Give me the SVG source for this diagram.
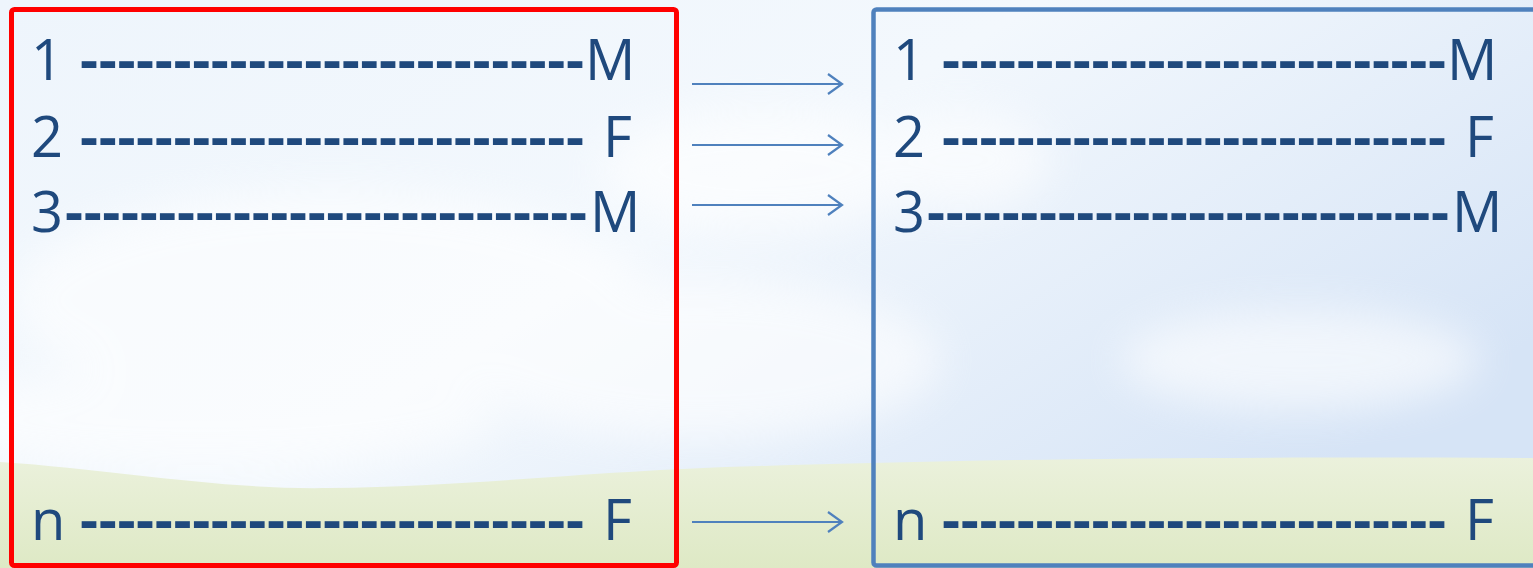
<svg xmlns="http://www.w3.org/2000/svg" width="1533" height="568" viewBox="0 0 1533 568">
<style>
.t{font-family:"Open Sans","Noto Sans","Liberation Sans",sans-serif;font-size:56px;fill:#1F497D}
.d{font-weight:700}
.arrow{stroke:#4F81BD;stroke-width:2;fill:none}
</style>
<defs>
<linearGradient id="sky" x1="0" y1="0" x2="1" y2="0.6">
<stop offset="0" stop-color="#EEF5FC"/>
<stop offset="0.5" stop-color="#F3F8FD"/>
<stop offset="1" stop-color="#D6E4F6"/>
</linearGradient>
<linearGradient id="grass" x1="0" y1="0" x2="0" y2="1">
<stop offset="0" stop-color="#EBF1DC"/>
<stop offset="1" stop-color="#DEE9C5"/>
</linearGradient>
<filter id="blur" x="-50%" y="-50%" width="200%" height="200%"><feGaussianBlur stdDeviation="20"/></filter>
<marker id="chev" markerWidth="20" markerHeight="24" refX="17" refY="12" orient="auto" markerUnits="userSpaceOnUse">
<path d="M3,2 L17,12 L3,22" fill="none" stroke="#4F81BD" stroke-width="2.2"/>
</marker>
</defs>
<g id="background">
<rect x="0" y="0" width="1533" height="568" fill="url(#sky)"/>
<g filter="url(#blur)" fill="#FFFFFF" opacity="0.6">
<ellipse cx="330" cy="300" rx="320" ry="110"/>
<ellipse cx="760" cy="170" rx="160" ry="60"/>
<ellipse cx="960" cy="160" rx="90" ry="50"/>
<ellipse cx="700" cy="360" rx="240" ry="80"/>
<ellipse cx="1300" cy="360" rx="180" ry="50"/>
<ellipse cx="200" cy="420" rx="300" ry="50"/>
</g>
<path d="M0,462 C120,470 220,490 330,488 C480,486 600,470 760,466 C950,460 1200,456 1533,458 L1533,568 L0,568 Z" fill="url(#grass)"/>
</g>
<g id="node-left">
<rect x="11.5" y="9.5" width="665" height="556" rx="3" fill="none" stroke="#FF0000" stroke-width="5"/>
<text class="t" y="80"><tspan x="31">1</tspan><tspan class="d" x="80" textLength="504" lengthAdjust="spacing">---------------------------</tspan><tspan x="585">M</tspan></text>
<text class="t" y="157"><tspan x="31">2</tspan><tspan class="d" x="80" textLength="504" lengthAdjust="spacing">---------------------------</tspan><tspan x="603">F</tspan></text>
<text class="t" y="232"><tspan x="31">3</tspan><tspan class="d" x="65" textLength="522" lengthAdjust="spacing">----------------------------</tspan><tspan x="590">M</tspan></text>
<text class="t" y="540"><tspan x="31">n</tspan><tspan class="d" x="80" textLength="504" lengthAdjust="spacing">---------------------------</tspan><tspan x="603">F</tspan></text>
</g>
<g id="node-right">
<rect x="873.5" y="9.5" width="700" height="556" rx="3" fill="none" stroke="#4F81BD" stroke-width="4.5"/>
<text class="t" y="80"><tspan x="893">1</tspan><tspan class="d" x="942" textLength="504" lengthAdjust="spacing">---------------------------</tspan><tspan x="1447">M</tspan></text>
<text class="t" y="157"><tspan x="893">2</tspan><tspan class="d" x="942" textLength="504" lengthAdjust="spacing">---------------------------</tspan><tspan x="1465">F</tspan></text>
<text class="t" y="232"><tspan x="893">3</tspan><tspan class="d" x="927" textLength="522" lengthAdjust="spacing">----------------------------</tspan><tspan x="1452">M</tspan></text>
<text class="t" y="540"><tspan x="893">n</tspan><tspan class="d" x="942" textLength="504" lengthAdjust="spacing">---------------------------</tspan><tspan x="1465">F</tspan></text>
</g>
<g id="connectors">
<line class="arrow" x1="692" y1="84" x2="842" y2="84" marker-end="url(#chev)"/>
<line class="arrow" x1="692" y1="145" x2="842" y2="145" marker-end="url(#chev)"/>
<line class="arrow" x1="692" y1="205" x2="842" y2="205" marker-end="url(#chev)"/>
<line class="arrow" x1="692" y1="522" x2="842" y2="522" marker-end="url(#chev)"/>
</g>
</svg>
